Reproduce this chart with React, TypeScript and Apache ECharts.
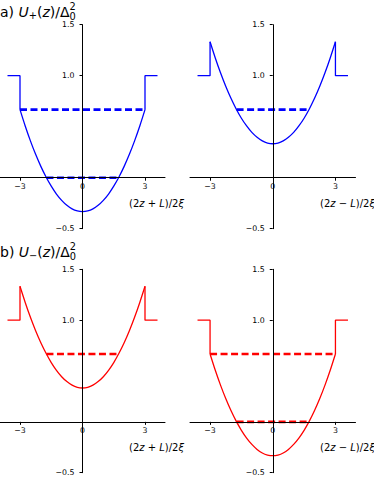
import React, { useEffect, useRef } from "react";
import * as echarts from "echarts";

// ---- data ----
const xTicks = [-3, 0, 3];
const yTicks = [-0.5, 1.0, 1.5];
const X_MIN = -3.96;
const X_MAX = 3.96;
const Y_MIN = -0.5;
const Y_MAX = 1.5;

const wellX = [-3, -2.75, -2.5, -2.25, -2, -1.75, -1.5, -1.25, -1, -0.75, -0.5, -0.25, 0,
  0.25, 0.5, 0.75, 1, 1.25, 1.5, 1.75, 2, 2.25, 2.5, 2.75, 3];
// deep well (panels a-left, b-right)
const deepWellY = [0.667, 0.507, 0.361, 0.229, 0.111, 0.007, -0.083, -0.16, -0.222, -0.271, -0.306, -0.326, -0.333,
  -0.326, -0.306, -0.271, -0.222, -0.16, -0.083, 0.007, 0.111, 0.229, 0.361, 0.507, 0.667];
// shallow well (panels a-right, b-left)
const shallowWellY = [1.333, 1.174, 1.028, 0.896, 0.778, 0.674, 0.583, 0.507, 0.444, 0.396, 0.361, 0.34, 0.333,
  0.34, 0.361, 0.396, 0.444, 0.507, 0.583, 0.674, 0.778, 0.896, 1.028, 1.174, 1.333];
const barrierX = [-3.6, -3, 3, 3.6];
const barrierLevel = 1.0;

// bound-state levels (energy, half width)
const deepLevelE = [0.667, 0.0];
const deepLevelHalf = [3, 1.73];
const shallowLevelE = [0.667];
const shallowLevelHalf = [1.73];

const BLUE = "#0000ff";
const RED = "#ff0000";
const FONT = '"DejaVu Sans"';

type Seg = { t: string; it?: boolean; fs: number; dy?: number; noAdv?: boolean };

let measureCtx: CanvasRenderingContext2D | null = null;
function measure(t: string, fs: number, it?: boolean) {
  if (!measureCtx) measureCtx = document.createElement("canvas").getContext("2d");
  const ctx = measureCtx!;
  ctx.font = `${it ? "italic " : ""}${fs}px ${FONT}`;
  return ctx.measureText(t).width;
}

function mathLabel(segs: Seg[], x0: number, yc: number) {
  let x = x0;
  const els: any[] = [];
  for (const s of segs) {
    els.push({
      type: "text",
      x,
      y: yc + (s.dy || 0),
      silent: true,
      style: {
        text: s.t,
        font: `${s.it ? "italic " : ""}${s.fs}px ${FONT}`,
        fill: "#000",
        align: "left",
        verticalAlign: "middle",
      },
    });
    if (!s.noAdv) x += measure(s.t, s.fs, s.it);
  }
  return els;
}

function axisLabelSegs(sign: string): Seg[] {
  return [
    { t: "(2", fs: 10 },
    { t: "z", fs: 10, it: true },
    { t: ` ${sign} `, fs: 10 },
    { t: "L", fs: 10, it: true },
    { t: ")/2", fs: 10 },
    { t: "ξ", fs: 10, it: true },
  ];
}

function titleSegs(letter: string, sub: string): Seg[] {
  return [
    { t: `${letter}) `, fs: 14 },
    { t: "U", fs: 14, it: true },
    { t: sub, fs: 9.8, dy: 4 },
    { t: "(", fs: 14 },
    { t: "z", fs: 14, it: true },
    { t: ")/Δ", fs: 14 },
    { t: "2", fs: 9.8, dy: -5, noAdv: true },
    { t: "0", fs: 9.8, dy: 4.5 },
  ];
}

const fmt = (v: number, dec: number) => {
  const s = dec ? Math.abs(v).toFixed(dec) : String(Math.abs(v));
  return v < 0 ? "−" + s : s;
};

export default function App() {
  const ref = useRef<HTMLDivElement>(null);
  useEffect(() => {
    if (!ref.current) return;
    const chart = echarts.init(ref.current, undefined, { renderer: "svg" });

    const panels = [
      { left: 0, top: 24.7, width: 165, height: 204, color: BLUE, wellY: deepWellY, lvE: deepLevelE, lvH: deepLevelHalf },
      { left: 190, top: 24.7, width: 165.5, height: 204, color: BLUE, wellY: shallowWellY, lvE: shallowLevelE, lvH: shallowLevelHalf },
      { left: 0, top: 269.3, width: 165, height: 203.4, color: RED, wellY: shallowWellY, lvE: shallowLevelE, lvH: shallowLevelHalf },
      { left: 190, top: 269.3, width: 165.5, height: 203.4, color: RED, wellY: deepWellY, lvE: deepLevelE, lvH: deepLevelHalf },
    ];

    const grid: any[] = [];
    const xAxis: any[] = [];
    const yAxis: any[] = [];
    const series: any[] = [];
    const axisLineStyle = { color: "#000", width: 1 };

    panels.forEach((p, i) => {
      grid.push({
        left: p.left, top: p.top, width: p.width, height: p.height,
        containLabel: false, outerBoundsMode: "none",
      });
      // place the spines through the origin (x = 0, y = 0) via offsets
      const yAxisOffset = -p.width * ((0 - X_MIN) / (X_MAX - X_MIN));
      const xAxisOffset = -p.height * ((0 - Y_MIN) / (Y_MAX - Y_MIN));
      xAxis.push({
        type: "value",
        gridIndex: i,
        min: X_MIN,
        max: X_MAX,
        position: "bottom",
        offset: xAxisOffset,
        z: 5,
        axisLine: { show: true, onZero: false, lineStyle: axisLineStyle },
        axisTick: { show: true, customValues: xTicks, length: 3, lineStyle: axisLineStyle },
        axisLabel: {
          customValues: xTicks,
          formatter: (v: number) => fmt(v, 0),
          fontSize: 7.8,
          fontFamily: FONT,
          color: "#000",
          margin: 5,
        },
        splitLine: { show: false },
      });
      yAxis.push({
        type: "value",
        gridIndex: i,
        min: Y_MIN,
        max: Y_MAX,
        position: "left",
        offset: yAxisOffset,
        z: 5,
        axisLine: { show: true, onZero: false, lineStyle: axisLineStyle },
        axisTick: { show: true, customValues: yTicks, length: 3, lineStyle: axisLineStyle },
        axisLabel: {
          customValues: yTicks,
          formatter: (v: number) => fmt(v, 1),
          fontSize: 7.8,
          fontFamily: FONT,
          color: "#000",
          margin: 8,
        },
        splitLine: { show: false },
      });

      const last = p.wellY.length - 1;
      const solid = { color: p.color, width: 1.3 };
      // left barrier
      series.push({
        type: "line", xAxisIndex: i, yAxisIndex: i, symbol: "none", lineStyle: solid,
        data: [[barrierX[0], barrierLevel], [barrierX[1], barrierLevel], [wellX[0], p.wellY[0]]],
      });
      // right barrier
      series.push({
        type: "line", xAxisIndex: i, yAxisIndex: i, symbol: "none", lineStyle: solid,
        data: [[wellX[last], p.wellY[last]], [barrierX[2], barrierLevel], [barrierX[3], barrierLevel]],
      });
      // well
      series.push({
        type: "line", xAxisIndex: i, yAxisIndex: i, symbol: "none", smooth: 0.3, lineStyle: solid,
        data: wellX.map((x, k) => [x, p.wellY[k]]),
      });
      // levels
      p.lvE.forEach((e, k) => {
        series.push({
          type: "line", xAxisIndex: i, yAxisIndex: i, symbol: "none",
          lineStyle: { color: p.color, width: 2.6, type: [7, 3.5] },
          data: [[-p.lvH[k], e], [p.lvH[k], e]],
        });
      });
    });

    const graphic: any[] = [
      ...mathLabel(titleSegs("a", "+"), 0, 11.5),
      ...mathLabel(titleSegs("b", "−"), 0, 251.5),
      ...mathLabel(axisLabelSegs("+"), 129, 203),
      ...mathLabel(axisLabelSegs("−"), 320, 203),
      ...mathLabel(axisLabelSegs("+"), 129, 447),
      ...mathLabel(axisLabelSegs("−"), 320, 447),
    ];

    chart.setOption({
      animation: false,
      backgroundColor: "#ffffff",
      grid,
      xAxis,
      yAxis,
      series,
      graphic,
    });
    return () => chart.dispose();
  }, []);

  return (
    <div
      ref={ref}
      style={{ position: "absolute", left: 0, top: 0, width: 374, height: 498 }}
    />
  );
}
